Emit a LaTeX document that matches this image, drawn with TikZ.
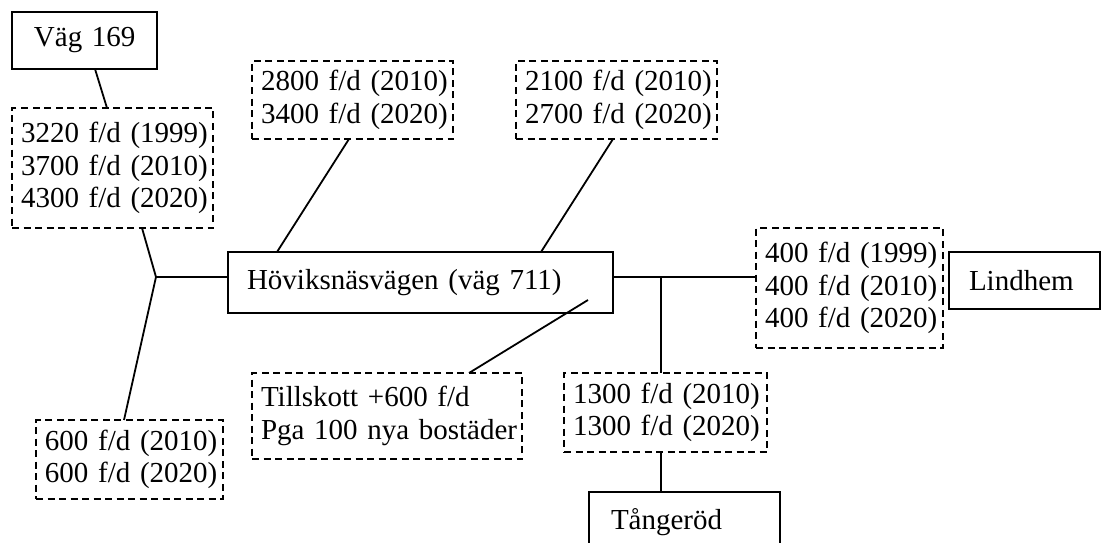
\documentclass[tikz,border=0pt]{standalone}
\usepackage{fontspec}
\setmainfont{Liberation Serif}
\newcommand{\tline}[1]{\mbox{#1}}
\begin{document}
\begin{tikzpicture}[x=1pt,y=-1pt,
  every node/.style={font=\fontsize{29}{32.5}\selectfont, outer sep=0pt},
  sbox/.style={draw, line width=1.8pt, align=left, anchor=north west, inner ysep=0pt},
  dbox/.style={draw, line width=1.8pt, dash pattern=on 7pt off 4.5pt, align=left,
    anchor=north west, inner xsep=9pt, inner ysep=0pt},
  link/.style={line width=1.8pt}
]
\useasboundingbox (0,0) rectangle (1104,543);
\clip (0,0) rectangle (1104,543);
\fill[white] (0,0) rectangle (1104,543);

% boxes
\node[sbox, inner xsep=22pt, text width=101pt, minimum height=57pt] (vag) at (12,12) {\tline{Väg 169}};
\node[dbox, text width=183pt, minimum height=120pt] (bA) at (12,108)
  {\tline{3220 f/d (1999)}\\\tline{3700 f/d (2010)}\\\tline{4300 f/d (2020)}};
\node[dbox, text width=169pt, minimum height=79pt] (b600) at (36,420)
  {\tline{600 f/d (2010)}\\\tline{600 f/d (2020)}};
\node[sbox, inner xsep=19pt, text width=347pt, minimum height=61pt] (hov) at (228,252)
  {\tline{Höviksnäsvägen (väg 711)}};
\node[dbox, text width=183pt, minimum height=78pt] (b2800) at (252,61)
  {\tline{2800 f/d (2010)}\\\tline{3400 f/d (2020)}};
\node[dbox, text width=183pt, minimum height=78pt] (b2100) at (516,61)
  {\tline{2100 f/d (2010)}\\\tline{2700 f/d (2020)}};
\node[dbox, text width=169pt, minimum height=120pt] (b400) at (756,228)
  {\tline{400 f/d (1999)}\\\tline{400 f/d (2010)}\\\tline{400 f/d (2020)}};
\node[sbox, inner xsep=20pt, text width=111pt, minimum height=57pt] (lind) at (949,252) {\tline{Lindhem}};
\node[dbox, text width=252pt, minimum height=86pt] (till) at (252,373)
  {\tline{Tillskott +600 f/d}\\\tline{Pga 100 nya bostäder}};
\node[dbox, text width=185pt, minimum height=79pt] (b1300) at (564,373)
  {\tline{1300 f/d (2010)}\\\tline{1300 f/d (2020)}};
\node[sbox, inner xsep=22pt, text width=147pt, minimum height=60pt] (tang) at (589,492) {\tline{Tångeröd}};

% junctions
\coordinate (j1) at (156,277);
\coordinate (j2) at (661,277);
\coordinate (tin) at (588,300);

% connectors
\draw[link] ([xshift=83pt]vag.south west) -- ([xshift=95pt]bA.north west);
\draw[link] ([xshift=130pt]bA.south west) -- (j1);
\draw[link] (j1) -- (j1 -| hov.west);
\draw[link] (j1) -- ([xshift=88pt]b600.north west);
\draw[link] ([xshift=97pt]b2800.south west) -- ([xshift=49pt]hov.north west);
\draw[link] ([xshift=97pt]b2100.south west) -- ([xshift=313pt]hov.north west);
\draw[link] (j1 -| hov.east) -- (j1 -| b400.west);
\draw[link] (j2) -- (j2 |- b1300.north);
\draw[link] (j2 |- b1300.south) -- (j2 |- tang.north);
\draw[link] (tin) -- ([xshift=217pt]till.north west);
\end{tikzpicture}
\end{document}
